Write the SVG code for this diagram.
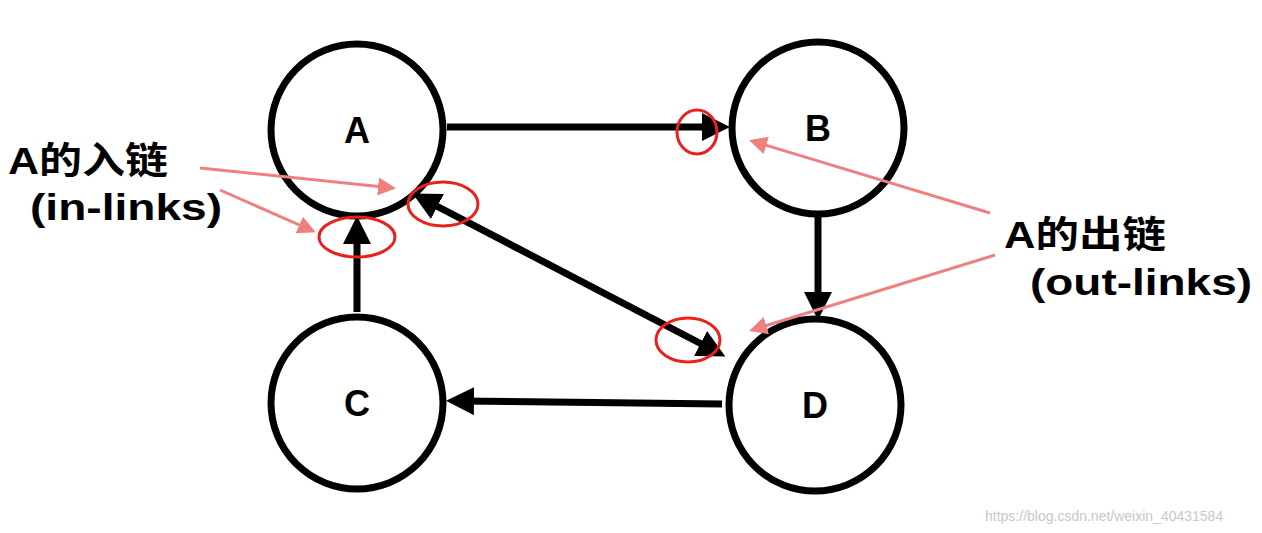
<svg xmlns="http://www.w3.org/2000/svg" width="1262" height="533" viewBox="0 0 1262 533">
<style>
.n{fill:#fff;stroke:#000;stroke-width:7}
.l{font-family:"Liberation Sans","Noto Sans CJK SC",sans-serif;font-weight:bold;font-size:36px;text-anchor:middle}
.t{font-family:"Liberation Sans","Noto Sans CJK SC",sans-serif;font-weight:bold;font-size:37px}
.e{stroke:#000;stroke-width:7;fill:none}
.r{fill:none;stroke:#e8211c;stroke-width:3}
.p{stroke:#f08080;stroke-width:3;fill:none}
</style>
<defs>
<marker id="ah" markerWidth="4" markerHeight="4" refX="2" refY="2" orient="auto-start-reverse" markerUnits="strokeWidth"><path d="M0,0L4,2L0,4z" fill="#000"/></marker>
<marker id="ph" markerWidth="6" markerHeight="6" refX="5" refY="3" orient="auto" markerUnits="strokeWidth"><path d="M0,0L6,3L0,6z" fill="#f08080"/></marker>
</defs>
<rect width="1262" height="533" fill="#fff"/>
<g id="nodeA"><circle class="n" cx="357" cy="130" r="86"/><text class="l" x="357" y="143">A</text></g>
<g id="nodeB"><circle class="n" cx="818" cy="128" r="86"/><text class="l" x="818" y="141">B</text></g>
<g id="nodeC"><circle class="n" cx="357" cy="403" r="86"/><text class="l" x="357" y="416">C</text></g>
<g id="nodeD"><circle class="n" cx="815" cy="405" r="86"/><text class="l" x="815" y="418">D</text></g>
<g id="edges">
<line class="e" x1="447" y1="127" x2="716" y2="127" marker-end="url(#ah)"/>
<line class="e" x1="818" y1="216" x2="818" y2="306" marker-end="url(#ah)"/>
<line class="e" x1="722" y1="404" x2="460" y2="401" marker-end="url(#ah)"/>
<line class="e" x1="357" y1="312" x2="357" y2="230" marker-end="url(#ah)"/>
<line class="e" x1="425" y1="200" x2="713" y2="350" marker-start="url(#ah)" marker-end="url(#ah)"/>
</g>
<g id="highlights">
<ellipse class="r" cx="697" cy="132" rx="20" ry="22"/>
<ellipse class="r" cx="357" cy="237" rx="38" ry="20"/>
<ellipse class="r" cx="443" cy="204" rx="35" ry="22"/>
<ellipse class="r" cx="688" cy="340" rx="32" ry="22"/>
<line class="p" x1="200" y1="168" x2="393" y2="188" marker-end="url(#ph)"/>
<line class="p" x1="220" y1="190" x2="313" y2="231" marker-end="url(#ph)"/>
<line class="p" x1="990" y1="213" x2="752" y2="141" marker-end="url(#ph)"/>
<line class="p" x1="995" y1="255" x2="752" y2="330" marker-end="url(#ph)"/>
</g>
<g id="labels">
<text class="t" x="8" y="174" textLength="160" lengthAdjust="spacingAndGlyphs">A的入链</text>
<text class="t" x="30" y="220" textLength="192" lengthAdjust="spacingAndGlyphs">(in-links)</text>
<text class="t" x="1004" y="248" textLength="162" lengthAdjust="spacingAndGlyphs">A的出链</text>
<text class="t" x="1030" y="295" textLength="222" lengthAdjust="spacingAndGlyphs">(out-links)</text>
<text x="985" y="521" font-family="Liberation Sans,sans-serif" font-size="14" fill="#c8c8c8">https://blog.csdn.net/weixin_40431584</text>
</g>
</svg>
